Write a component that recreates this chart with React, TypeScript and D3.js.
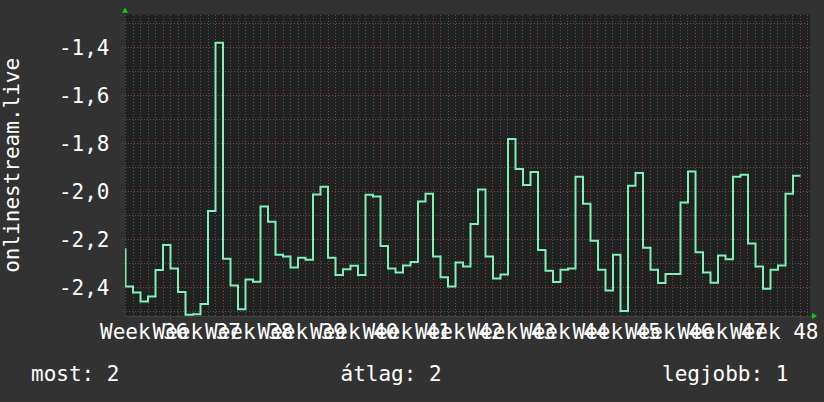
import React from 'react';
import * as d3 from 'd3';

// Daily values, first entry belongs to day -7 (days counted from the Week 36 gridline)
const firstDay = -7;
const dailyValues = [
  -2.242, -2.397, -2.422, -2.46, -2.439, -2.328, -2.224,
  -2.322, -2.42, -2.515, -2.513, -2.47, -2.082, -1.381,
  -2.281, -2.393, -2.492, -2.368, -2.377, -2.064, -2.127,
  -2.265, -2.272, -2.318, -2.277, -2.286, -2.013, -1.981,
  -2.277, -2.349, -2.325, -2.311, -2.349, -2.015, -2.022,
  -2.228, -2.322, -2.339, -2.31, -2.295, -2.043, -2.01,
  -2.272, -2.358, -2.397, -2.297, -2.314, -2.136, -1.993,
  -2.272, -2.364, -2.347, -1.782, -1.907, -1.974, -1.92,
  -2.245, -2.331, -2.378, -2.327, -2.322, -1.939, -2.052,
  -2.206, -2.327, -2.414, -2.265, -2.499, -1.977, -1.924,
  -2.235, -2.327, -2.382, -2.345, -2.345, -2.047, -1.918,
  -2.254, -2.339, -2.381, -2.268, -2.283, -1.939, -1.931,
  -2.218, -2.314, -2.406, -2.327, -2.31, -2.01, -1.935,
];

const weekLabels = [
  'Week 36', 'Week 37', 'Week 38', 'Week 39', 'Week 40', 'Week 41', 'Week 42',
  'Week 43', 'Week 44', 'Week 45', 'Week 46', 'Week 47', 'Week 48',
];

const yMajorTicks = [-2.4, -2.2, -2.0, -1.8, -1.6, -1.4];
const yMinorTicks = [-2.5, -2.3, -2.1, -1.9, -1.7, -1.5, -1.3];

const yAxisTitle = 'onlinestream.live';
const legendLabels = ['most', 'átlag', 'legjobb'];
const legendValues = ['2', '2', '1'];

// Visible time window in days and value range
const dayDomain = [-6.0667, 85.2667];
const valueDomain = [-2.52, -1.264];

const W = 824;
const H = 402;
const plot = { left: 125, right: 810, top: 14.7, bottom: 316 };

const FONT = '"DejaVu Sans Mono", monospace';
const BG = '#323232';
const CANVAS = '#212121';
const MINOR = '#555555';
const MAJOR = '#8a4040';
const LINE = '#7ef0b8';
const ARROW = '#10cc10';

const locale = d3.formatLocale({
  decimal: ',',
  thousands: ' ',
  grouping: [3],
  currency: ['', ''],
  minus: '-',
});
const fmt = locale.format('.1f');

const px = (v: number) => Math.floor(v) + 0.5;

export default function App() {
  const x = d3.scaleLinear().domain(dayDomain).range([plot.left, plot.right]);
  const y = d3.scaleLinear().domain(valueDomain).range([plot.bottom, plot.top]);

  const points: [number, number][] = dailyValues.map((v, i) => [firstDay + i, v]);
  points.push([firstDay + dailyValues.length, dailyValues[dailyValues.length - 1]]);

  const line = d3
    .line<[number, number]>()
    .x((d) => x(d[0]))
    .y((d) => y(d[1]))
    .curve(d3.curveStepAfter);

  const weekDays = weekLabels.map((_, i) => i * 7);
  const allDays = d3.range(Math.ceil(dayDomain[0]), Math.floor(dayDomain[1]) + 1);
  const minorDays = allDays.filter((d) => d % 7 !== 0);

  const legendX = [31, 340.5, 662];

  return (
    <svg
      width={W}
      height={H}
      style={{ position: 'absolute', left: 0, top: 0, display: 'block' }}
    >
      <defs>
        <clipPath id="plot-clip">
          <rect
            x={plot.left}
            y={plot.top}
            width={plot.right - plot.left}
            height={plot.bottom - plot.top}
          />
        </clipPath>
      </defs>
      <rect x={0} y={0} width={W} height={H} fill={BG} />
      <rect
        x={plot.left}
        y={plot.top}
        width={plot.right - plot.left}
        height={plot.bottom - plot.top}
        fill={CANVAS}
      />

      {/* grid */}
      <g shapeRendering="crispEdges" strokeWidth={1} strokeDasharray="1,2">
        {minorDays.map((d) => (
          <line
            key={'vd' + d}
            x1={px(x(d))}
            x2={px(x(d))}
            y1={plot.top}
            y2={plot.bottom + 2}
            stroke={MINOR}
          />
        ))}
        {yMinorTicks.map((v) => (
          <line
            key={'hm' + v}
            x1={plot.left - 2}
            x2={plot.right}
            y1={px(y(v))}
            y2={px(y(v))}
            stroke={MINOR}
          />
        ))}
        {weekDays.map((d) => (
          <line
            key={'vw' + d}
            x1={px(x(d))}
            x2={px(x(d))}
            y1={plot.top}
            y2={plot.bottom + 3}
            stroke={MAJOR}
          />
        ))}
        {yMajorTicks.map((v) => (
          <line
            key={'hM' + v}
            x1={plot.left - 3}
            x2={plot.right}
            y1={px(y(v))}
            y2={px(y(v))}
            stroke={MAJOR}
          />
        ))}
      </g>

      {/* axis line */}
      <line
        x1={plot.left}
        x2={plot.right + 2}
        y1={px(plot.bottom)}
        y2={px(plot.bottom)}
        stroke="#404040"
        shapeRendering="crispEdges"
      />

      {/* series */}
      <path
        d={line(points) || ''}
        fill="none"
        stroke={LINE}
        strokeWidth={2}
        clipPath="url(#plot-clip)"
      />

      {/* axis arrows */}
      <path
        d={`M${plot.left - 3},${plot.top - 2} L${plot.left + 3},${plot.top - 2} L${plot.left},${plot.top - 7} Z`}
        fill={ARROW}
      />
      <path
        d={`M${plot.right + 2},${plot.bottom - 3} L${plot.right + 2},${plot.bottom + 3} L${plot.right + 7},${plot.bottom} Z`}
        fill={ARROW}
      />

      {/* y tick labels */}
      <g fontFamily={FONT} fontSize={21} fill="#ffffff">
        {yMajorTicks.map((v) => (
          <text key={'yl' + v} x={109.5} y={y(v) + 7.5} textAnchor="end">
            {fmt(v)}
          </text>
        ))}
        {weekLabels.map((lab, i) => (
          <text key={lab} x={x(weekDays[i] - 3.5)} y={338.5} textAnchor="middle">
            {lab}
          </text>
        ))}
        <text
          transform={`translate(18.5, ${(plot.top + plot.bottom) / 2}) rotate(-90)`}
          textAnchor="middle"
        >
          {yAxisTitle}
        </text>
        {legendLabels.map((lab, i) => (
          <text key={lab} x={legendX[i]} y={381}>
            {`${lab}: ${legendValues[i]}`}
          </text>
        ))}
      </g>
    </svg>
  );
}
